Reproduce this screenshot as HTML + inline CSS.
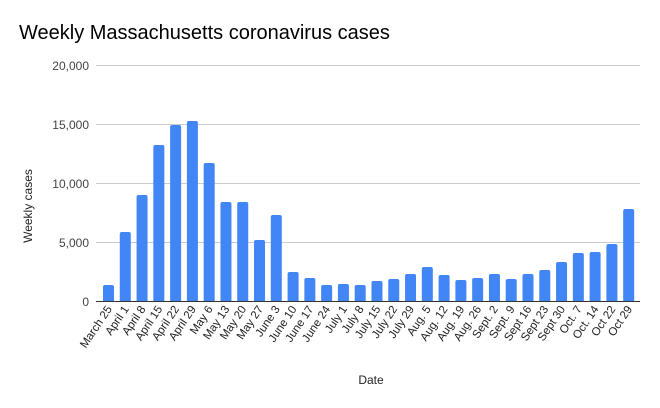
<!DOCTYPE html>
<html><head><meta charset="utf-8"><style>
html,body{margin:0;padding:0;background:#fff;}
svg{display:block;font-family:"Liberation Sans",Arial,sans-serif;}
</style></head><body>
<svg width="660" height="408" viewBox="0 0 660 408" xmlns="http://www.w3.org/2000/svg">
<rect width="660" height="408" fill="#fff"/>
<text x="19" y="39" font-size="20" fill="#000">Weekly Massachusetts coronavirus cases</text>
<g stroke="#ccc" stroke-width="1">
<line x1="96" y1="65.5" x2="640" y2="65.5"/>
<line x1="96" y1="124.5" x2="640" y2="124.5"/>
<line x1="96" y1="183.5" x2="640" y2="183.5"/>
<line x1="96" y1="242.5" x2="640" y2="242.5"/>
</g>
<g font-size="12" fill="#444" text-anchor="end">
<text x="89" y="70">20,000</text>
<text x="89" y="129">15,000</text>
<text x="89" y="188">10,000</text>
<text x="89" y="247">5,000</text>
<text x="89" y="306">0</text>
</g>
<text transform="translate(32,206) rotate(-90)" font-size="12" fill="#222" text-anchor="middle">Weekly cases</text>
<text x="371" y="384" font-size="12" fill="#222" text-anchor="middle">Date</text>
<g fill="#4285f4">
<rect x="103" y="285" width="11" height="20" rx="2"/>
<rect x="119.78" y="232" width="11" height="73" rx="2"/>
<rect x="136.56" y="195" width="11" height="110" rx="2"/>
<rect x="153.34" y="145" width="11" height="160" rx="2"/>
<rect x="170.12" y="125" width="11" height="180" rx="2"/>
<rect x="186.9" y="121" width="11" height="184" rx="2"/>
<rect x="203.68" y="163" width="11" height="142" rx="2"/>
<rect x="220.46" y="202" width="11" height="103" rx="2"/>
<rect x="237.24" y="202" width="11" height="103" rx="2"/>
<rect x="254.02" y="240" width="11" height="65" rx="2"/>
<rect x="270.8" y="215" width="11" height="90" rx="2"/>
<rect x="287.58" y="272" width="11" height="33" rx="2"/>
<rect x="304.36" y="278" width="11" height="27" rx="2"/>
<rect x="321.14" y="285" width="11" height="20" rx="2"/>
<rect x="337.92" y="284" width="11" height="21" rx="2"/>
<rect x="354.7" y="285" width="11" height="20" rx="2"/>
<rect x="371.48" y="281" width="11" height="24" rx="2"/>
<rect x="388.26" y="279" width="11" height="26" rx="2"/>
<rect x="405.04" y="274" width="11" height="31" rx="2"/>
<rect x="421.82" y="267" width="11" height="38" rx="2"/>
<rect x="438.6" y="275" width="11" height="30" rx="2"/>
<rect x="455.38" y="280" width="11" height="25" rx="2"/>
<rect x="472.16" y="278" width="11" height="27" rx="2"/>
<rect x="488.94" y="274" width="11" height="31" rx="2"/>
<rect x="505.72" y="279" width="11" height="26" rx="2"/>
<rect x="522.5" y="274" width="11" height="31" rx="2"/>
<rect x="539.28" y="270" width="11" height="35" rx="2"/>
<rect x="556.06" y="262" width="11" height="43" rx="2"/>
<rect x="572.84" y="253" width="11" height="52" rx="2"/>
<rect x="589.62" y="252" width="11" height="53" rx="2"/>
<rect x="606.4" y="244" width="11" height="61" rx="2"/>
<rect x="623.18" y="209" width="11" height="96" rx="2"/>
</g>
<rect x="96" y="302" width="544" height="5" fill="#fff"/>
<line x1="96" y1="301.5" x2="640" y2="301.5" stroke="#333" stroke-width="1"/>
<g font-size="11.5" fill="#222" text-anchor="end">
<text transform="translate(112.5,309) rotate(-56)">March 25</text>
<text transform="translate(129.28,309) rotate(-56)">April 1</text>
<text transform="translate(146.06,309) rotate(-56)">April 8</text>
<text transform="translate(162.84,309) rotate(-56)">April 15</text>
<text transform="translate(179.62,309) rotate(-56)">April 22</text>
<text transform="translate(196.4,309) rotate(-56)">April 29</text>
<text transform="translate(213.18,309) rotate(-56)">May 6</text>
<text transform="translate(229.96,309) rotate(-56)">May 13</text>
<text transform="translate(246.74,309) rotate(-56)">May 20</text>
<text transform="translate(263.52,309) rotate(-56)">May 27</text>
<text transform="translate(280.3,309) rotate(-56)">June 3</text>
<text transform="translate(297.08,309) rotate(-56)">June 10</text>
<text transform="translate(313.86,309) rotate(-56)">June 17</text>
<text transform="translate(330.64,309) rotate(-56)">June 24</text>
<text transform="translate(347.42,309) rotate(-56)">July 1</text>
<text transform="translate(364.2,309) rotate(-56)">July 8</text>
<text transform="translate(380.98,309) rotate(-56)">July 15</text>
<text transform="translate(397.76,309) rotate(-56)">July 22</text>
<text transform="translate(414.54,309) rotate(-56)">July 29</text>
<text transform="translate(431.32,309) rotate(-56)">Aug. 5</text>
<text transform="translate(448.1,309) rotate(-56)">Aug. 12</text>
<text transform="translate(464.88,309) rotate(-56)">Aug. 19</text>
<text transform="translate(481.66,309) rotate(-56)">Aug. 26</text>
<text transform="translate(498.44,309) rotate(-56)">Sept. 2</text>
<text transform="translate(515.22,309) rotate(-56)">Sept. 9</text>
<text transform="translate(532,309) rotate(-56)">Sept 16</text>
<text transform="translate(548.78,309) rotate(-56)">Sept 23</text>
<text transform="translate(565.56,309) rotate(-56)">Sept 30</text>
<text transform="translate(582.34,309) rotate(-56)">Oct. 7</text>
<text transform="translate(599.12,309) rotate(-56)">Oct. 14</text>
<text transform="translate(615.9,309) rotate(-56)">Oct 22</text>
<text transform="translate(632.68,309) rotate(-56)">Oct 29</text>
</g>
</svg>
</body></html>
